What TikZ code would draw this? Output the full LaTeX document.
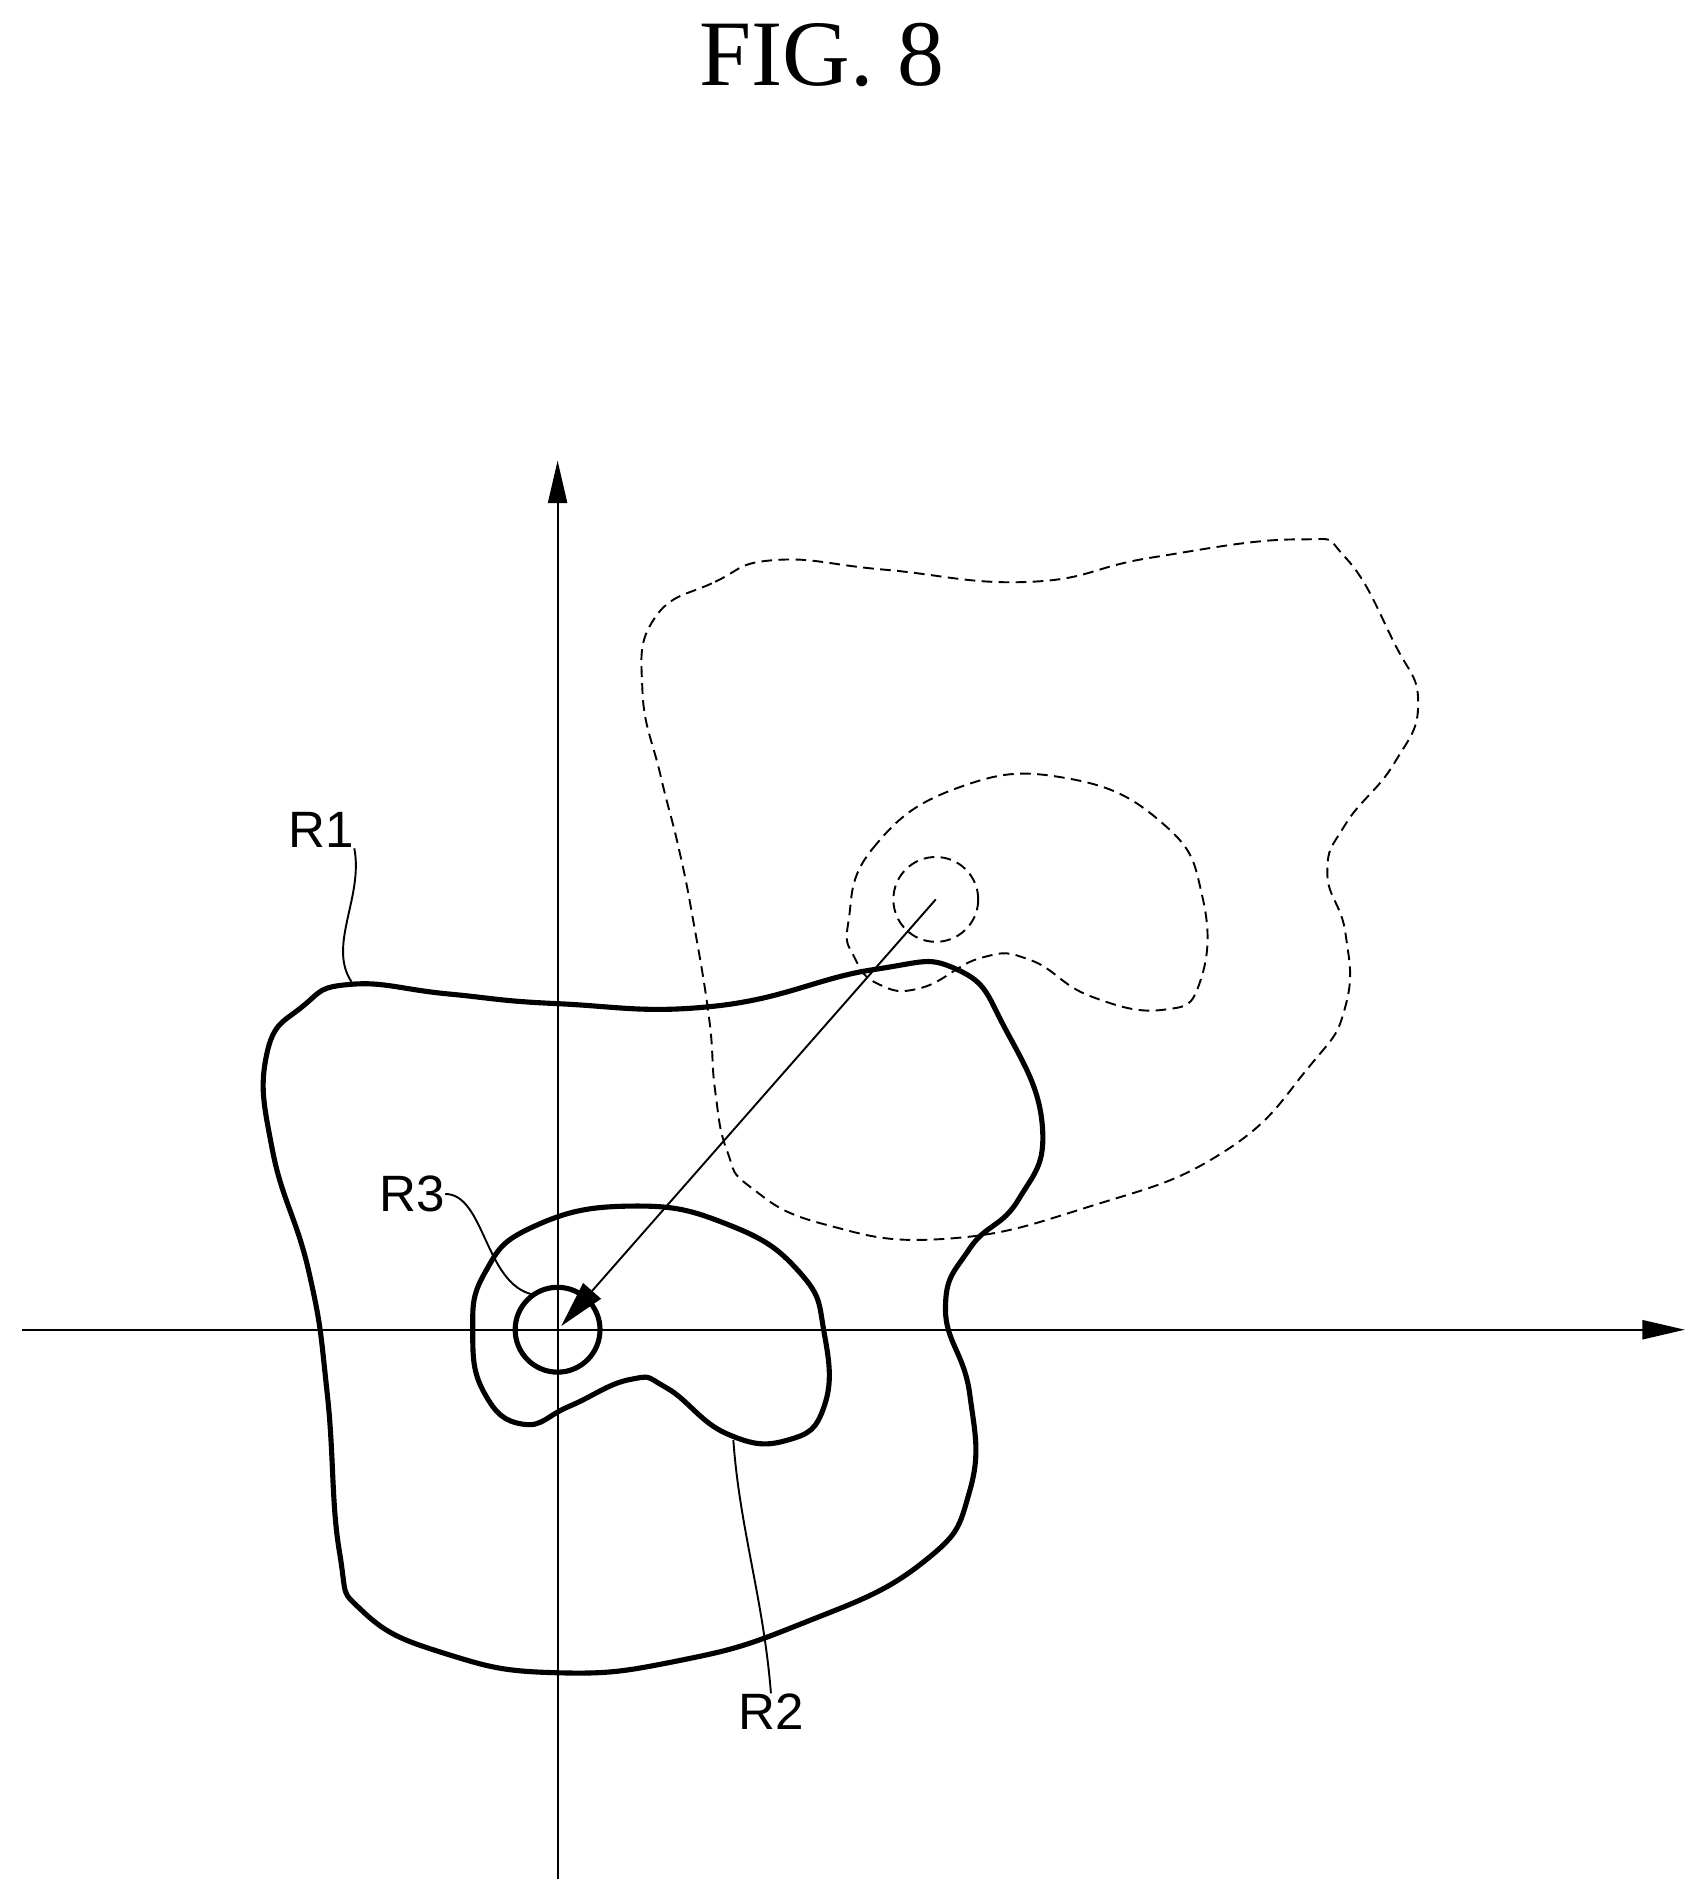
\documentclass[tikz,border=0pt]{standalone}
\usepackage{fontspec}
\setmainfont{Liberation Serif}
\newfontfamily\lab{Liberation Sans}
\usetikzlibrary{arrows.meta}
\begin{document}
\begin{tikzpicture}[x=0.02cm,y=-0.02cm,
 thickc/.style={line width=2.4pt},
 thinl/.style={line width=0.9pt},
 dashc/.style={line width=0.9pt,dash pattern=on 5pt off 3pt},
 lbl/.style={font=\lab\fontsize{24}{24}\selectfont,inner sep=0pt}]
\useasboundingbox (0,0) rectangle (1404,1565);
\node[font=\fontsize{44}{44}\selectfont] (title) at (678,45) {FIG. 8};
% axes
\coordinate (yb) at (460,1550); \coordinate (yt) at (460,380);
\coordinate (xl) at (18,1097); \coordinate (xr) at (1390,1097);
\draw[thinl,-{Triangle[length=20pt,width=9pt]}] (yb) -- (yt);
\draw[thinl,-{Triangle[length=20pt,width=9pt]}] (xl) -- (xr);
% R1
\draw[thickc] plot[smooth cycle,tension=0.8] coordinates{(460,828)(590,830)(720,800)(790,800)(830,850)(860,930)(840,990)(800,1030)(780,1080)(800,1150)(800,1230)(760,1290)(660,1340)(560,1370)(460,1380)(370,1365)(300,1330)(280,1280)(270,1150)(255,1050)(225,950)(220,870)(250,830)(290,812)(370,820)};
% R2
\draw[thickc] plot[smooth cycle,tension=0.8] coordinates{(400,1050)(440,1012)(520,995)(600,1010)(660,1050)(680,1100)(680,1160)(650,1188)(600,1183)(550,1145)(520,1138)(470,1160)(432,1175)(400,1150)(390,1100)};
% R3
\node[circle,draw,thickc,minimum size=70*0.02cm,inner sep=0] (r3) at (460,1097) {};
% dashed
\draw[dashc] plot[smooth cycle,tension=0.8] coordinates{(540,510)(590,480)(640,462)(730,470)(850,480)(950,460)(1070,445)(1110,460)(1150,530)(1170,580)(1150,630)(1110,680)(1095,720)(1110,770)(1110,830)(1080,880)(1010,950)(900,995)(780,1022)(680,1010)(620,980)(600,950)(590,900)(585,840)(572,760)(560,700)(545,640)(530,570)};
\draw[dashc] plot[smooth cycle,tension=0.8] coordinates{(700,760)(720,700)(790,650)(880,642)(960,680)(992,740)(990,810)(960,833)(900,822)(850,792)(810,790)(760,815)(725,812)(705,790)};
\node[circle,draw,dashc,minimum size=70*0.02cm,inner sep=0] (c2) at (772,742) {};
\coordinate (o) at (463,1094);
\draw[thinl,-{Triangle[length=22pt,width=11pt]}] (c2.center) -- (o);
% labels
\node[lbl] (R1) at (265,685) {R1};
\node[lbl] (R3) at (340,985) {R3};
\node[lbl] (R2) at (636,1412) {R2};
\coordinate (e1) at (290,810); \coordinate (e3) at (440,1068); \coordinate (e2) at (605,1188);
\draw[thinl] (R1.south east) .. controls (300,740) and (270,780) .. (e1);
\draw[thinl] (R3.east) .. controls (400,985) and (400,1060) .. (e3);
\draw[thinl] (R2.north) .. controls (630,1320) and (610,1260) .. (e2);
\end{tikzpicture}
\end{document}
